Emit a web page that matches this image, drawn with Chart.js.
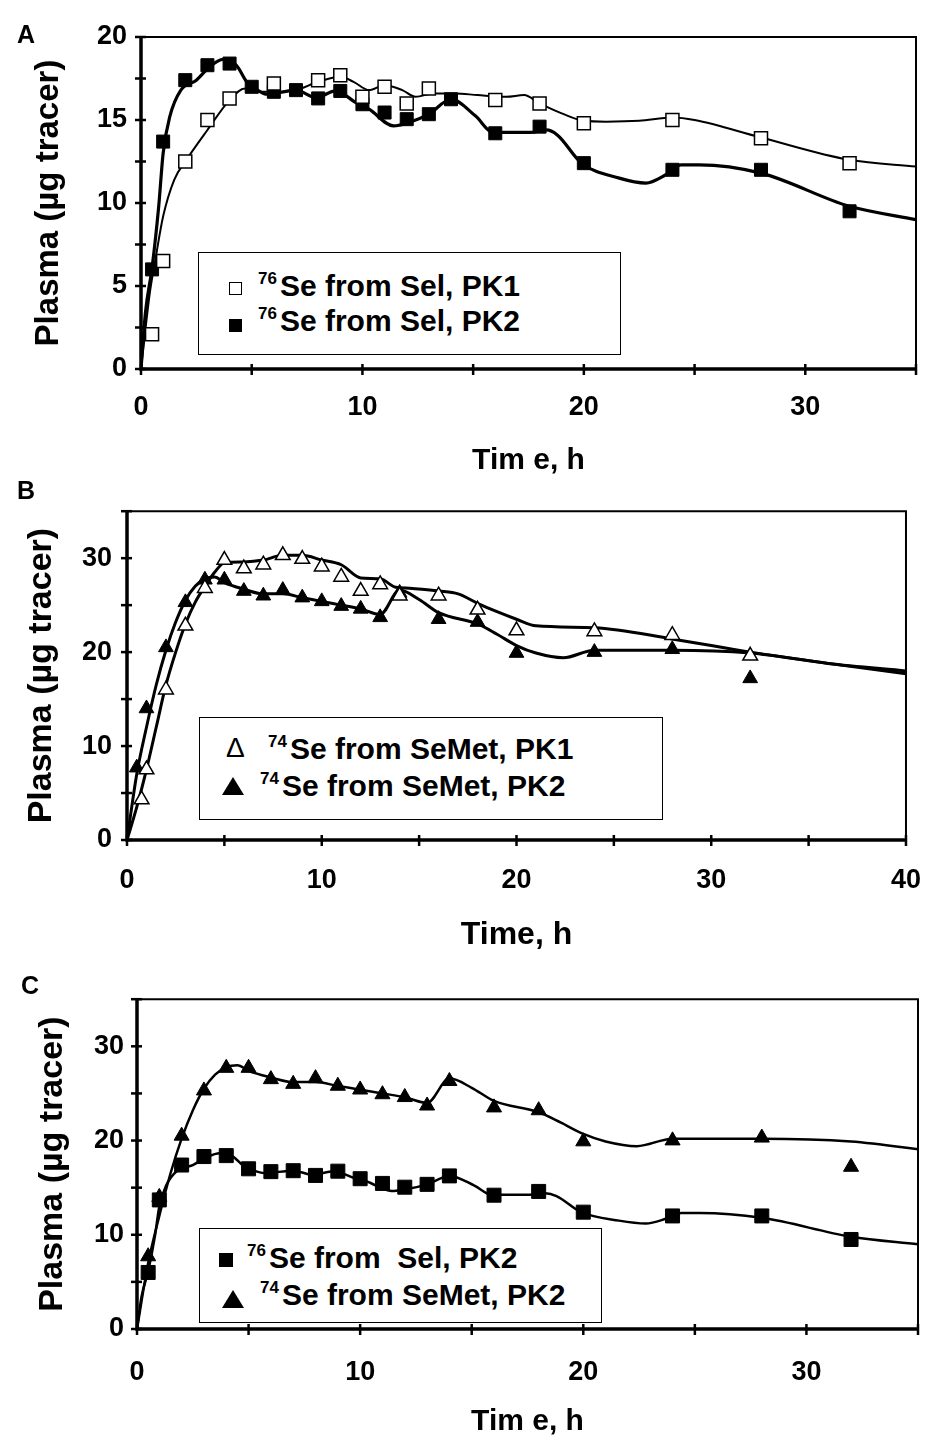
<!DOCTYPE html>
<html>
<head>
<meta charset="utf-8">
<script src="https://cdn.jsdelivr.net/npm/chart.js@4.4.1/dist/chart.umd.min.js"></script>
<style>
  body { margin: 0; background: #fff; width: 945px; height: 1452px; position: relative; overflow: hidden;
         font-family: "Liberation Sans", Arial, sans-serif; color: #000; }
  canvas { position: absolute; left: 0; }
  .letter { position: absolute; font-weight: bold; font-size: 25px; line-height: 25px; }
  .legend { position: absolute; border: 1.5px solid #000; box-sizing: border-box; background: #fff; }
  .row { position: absolute; font-weight: bold; font-size: 30px; line-height: 34px; white-space: pre; }
  .row .sup { font-size: 17px; vertical-align: 12px; line-height: 0; margin-right: 3px; }
  .mk { position: absolute; box-sizing: border-box; }
  .sq-open { border: 1.5px solid #000; background: #fff; }
  .sq-full { background: #000; }
  .tri-full { width: 0; height: 0; border-left: 11px solid transparent; border-right: 11px solid transparent; border-bottom: 18px solid #000; }
  .tri-open { font-weight: normal; font-size: 28px; line-height: 28px; }
</style>
</head>
<body>
<canvas id="chartA" width="945" height="480" style="top:0px;width:945px;height:480px"></canvas>
<canvas id="chartB" width="945" height="490" style="top:480px;width:945px;height:490px"></canvas>
<canvas id="chartC" width="945" height="482" style="top:970px;width:945px;height:482px"></canvas>
<div id="overlay"></div>
<script>
Chart.defaults.font.family = '"Liberation Sans", Arial, sans-serif';
Chart.defaults.color = "#000";

// --- measured points (h, µg tracer) ---
const selPk1Times = [0.5, 1, 2, 3, 4, 6, 8, 9, 10, 11, 12, 13, 16, 18, 20, 24, 28, 32];
const selPk1Values = [2.1, 6.5, 12.5, 15.0, 16.3, 17.2, 17.4, 17.7, 16.4, 17.0, 16.0, 16.9, 16.2, 16.0, 14.8, 15.0, 13.9, 12.4];
const selPk2Times = [0.5, 1, 2, 3, 4, 5, 6, 7, 8, 9, 10, 11, 12, 13, 14, 16, 18, 20, 24, 28, 32];
const selPk2Values = [6.0, 13.7, 17.4, 18.3, 18.4, 17.0, 16.7, 16.8, 16.3, 16.75, 15.95, 15.45, 15.05, 15.35, 16.25, 14.2, 14.6, 12.4, 12.0, 12.0, 9.5];
const semetPk1Times = [0.75, 1, 2, 3, 4, 5, 6, 7, 8, 9, 10, 11, 12, 13, 14, 16, 18, 20, 24, 28, 32];
const semetPk1Values = [4.3, 7.5, 16.0, 22.8, 26.8, 29.8, 28.9, 29.3, 30.3, 29.9, 29.1, 28.0, 26.5, 27.2, 26.0, 26.0, 24.5, 22.3, 22.2, 21.8, 19.6];
const semetPk2Times = [0.5, 1, 2, 3, 4, 5, 6, 7, 8, 9, 10, 11, 12, 13, 14, 16, 18, 20, 24, 28, 32];
const semetPk2Values = [7.7, 14.0, 20.5, 25.3, 27.7, 27.7, 26.5, 26.0, 26.6, 25.8, 25.4, 24.9, 24.6, 23.7, 26.3, 23.5, 23.2, 19.9, 20.0, 20.3, 17.2];

// --- model fit curves ---
const selPk1FitTimes = [0, 0.4, 0.65, 1, 1.5, 2, 3, 4, 4.7, 5.3, 6, 7, 8, 9, 9.6, 10.3, 11, 11.8, 12.4, 13.2, 14.2, 15.2, 16.5, 17.3, 18, 19, 20, 21, 22.5, 24, 25, 28, 32, 35];
const selPk1FitValues = [0, 4.6, 6.6, 9.2, 11.4, 12.5, 14.4, 16.2, 16.9, 16.7, 16.7, 16.8, 17.3, 17.6, 17.3, 16.8, 17.1, 16.8, 16.4, 16.6, 16.6, 16.5, 16.4, 16.5, 16.0, 15.4, 14.95, 14.9, 14.95, 15.15, 15.0, 13.95, 12.6, 12.2];
const selPk2FitTimes = [0, 0.2, 0.5, 0.8, 1, 1.3, 1.8, 2.5, 3.1, 3.7, 4.3, 4.8, 5.1, 5.7, 7, 7.9, 8.8, 9.7, 10.3, 11.4, 12.1, 13, 14, 15.1, 15.9, 17.6, 18.3, 18.8, 19.9, 21.6, 22.8, 23.7, 24.4, 25.2, 28, 32, 35];
const selPk2FitValues = [0, 3.4, 6.1, 9.8, 13, 15.2, 16.8, 17.4, 18.2, 18.65, 18.3, 17.25, 16.95, 16.55, 16.8, 16.35, 16.75, 16.05, 15.65, 14.65, 14.85, 15.35, 16.25, 15.25, 14.25, 14.25, 14.4, 14.1, 12.4, 11.5, 11.2, 11.7, 12.3, 12.3, 11.8, 9.8, 9.0];
const semetPk1FitTimes = [0, 0.5, 1, 1.5, 2, 2.5, 3, 3.5, 4, 4.5, 5, 6, 7, 8, 9, 10, 11, 12, 13, 13.8, 14.5, 16, 17, 18, 19, 20, 21, 24, 28, 32, 36, 40];
const semetPk1FitValues = [0, 3.5, 7.5, 12, 16.5, 20, 23, 25.3, 27, 28.5, 29.5, 29.6, 29.8, 30.3, 30.3, 29.8, 29.3, 27.9, 27.8, 26.9, 26.8, 26.5, 26.2, 25.2, 24.3, 23.5, 22.8, 22.6, 21.4, 20.0, 18.8, 17.7];
const semetPk2FitTimes = [0, 0.5, 1, 1.5, 2, 2.5, 3, 3.5, 4, 4.5, 5, 6, 7, 8, 9, 10, 11, 12, 13, 14, 15, 16, 18, 19, 20, 21, 22.4, 24, 28, 32, 36, 40];
const semetPk2FitValues = [0, 7, 12, 16.5, 20.2, 23.2, 25.5, 27, 27.8, 28, 27.4, 26.7, 26.2, 26.2, 25.8, 25.4, 25, 24.6, 24.0, 26.6, 25.6, 24.2, 23, 21.9, 20.7, 19.9, 19.4, 20.2, 20.2, 19.9, 18.8, 18.0];

// --- labelled tick values ---
const timeLabels35 = [0, 10, 20, 30];
const timeLabels40 = [0, 10, 20, 30, 40];
const plasmaLabelsA = [0, 5, 10, 15, 20];
const plasmaLabelsBC = [0, 10, 20, 30];

const yTitle = "Plasma (\u00b5g tracer)";
const legendLabels = {
  a: [["76", "Se from Sel, PK1"], ["76", "Se from Sel, PK2"]],
  b: [["74", "Se from SeMet, PK1"], ["74", "Se from SeMet, PK2"]],
  c: [["76", "Se from  Sel, PK2"], ["74", "Se from SeMet, PK2"]],
};

const toPoints = (ts, vs) => ts.map((t, i) => ({ x: t, y: vs[i] }));

function markerSet(ts, vs, style, filled, radius) {
  return {
    data: toPoints(ts, vs),
    showLine: false,
    pointStyle: style,
    pointRadius: radius,
    pointBackgroundColor: filled ? "#000" : "#fff",
    pointBorderColor: "#000",
    pointBorderWidth: filled ? 1 : 1.5,
    order: 0,
  };
}

function fitSet(ts, vs, width) {
  return {
    data: toPoints(ts, vs),
    borderColor: "#000",
    borderWidth: width,
    pointRadius: 0,
    cubicInterpolationMode: "monotone",
    fill: false,
    order: 1,
  };
}

// box frame and ticks that cross the axes
const framePlugin = {
  id: "frame",
  afterDraw(chart) {
    const { ctx, chartArea: a, scales } = chart;
    ctx.save();
    ctx.strokeStyle = "#000";
    ctx.lineWidth = 2;
    ctx.beginPath();
    ctx.moveTo(a.left, a.top);
    ctx.lineTo(a.right, a.top);
    ctx.lineTo(a.right, a.bottom);
    ctx.stroke();
    ctx.lineWidth = 3.5;
    ctx.beginPath();
    ctx.moveTo(a.left, a.top - 1);
    ctx.lineTo(a.left, a.bottom);
    ctx.lineTo(a.right + 1, a.bottom);
    ctx.stroke();
    ctx.lineWidth = 2.5;
    scales.x.ticks.forEach((t) => {
      const px = scales.x.getPixelForValue(t.value);
      ctx.beginPath();
      ctx.moveTo(px, a.bottom - 5);
      ctx.lineTo(px, a.bottom + 6);
      ctx.stroke();
    });
    scales.y.ticks.forEach((t) => {
      const py = scales.y.getPixelForValue(t.value);
      ctx.beginPath();
      ctx.moveTo(a.left - 6, py);
      ctx.lineTo(a.left + 5, py);
      ctx.stroke();
    });
    ctx.restore();
  },
};

const tickFont = { size: 27, weight: "bold" };

function makeChart(id, p, datasets) {
  return new Chart(document.getElementById(id), {
    type: "line",
    data: { datasets },
    plugins: [framePlugin],
    options: {
      responsive: false,
      animation: false,
      events: [],
      layout: { padding: { left: 0, right: p.padRight, top: p.padTop, bottom: 0 } },
      plugins: { legend: { display: false }, tooltip: { enabled: false } },
      scales: {
        x: {
          type: "linear",
          min: 0,
          max: p.xMax,
          border: { display: false },
          grid: { display: false, drawTicks: false },
          ticks: {
            stepSize: 5,
            autoSkip: false,
            maxRotation: 0,
            padding: p.xTickPad,
            font: tickFont,
            color: "#000",
            callback: (v) => (p.xLabels.includes(v) ? String(v) : ""),
          },
          title: { display: true, text: p.xTitle, font: { size: p.xTitleSize, weight: "bold" }, color: "#000",
                   padding: { top: 0, bottom: p.xTitlePad } },
          afterFit: (s) => { s.height = p.xHeight; },
        },
        y: {
          min: 0,
          max: p.yMax,
          border: { display: false },
          grid: { display: false, drawTicks: false },
          ticks: {
            stepSize: p.yStep,
            autoSkip: false,
            padding: p.yTickPad,
            font: tickFont,
            color: "#000",
            callback: (v) => (p.yLabels.includes(v) ? String(v) : ""),
          },
          title: { display: true, text: yTitle, font: { size: p.yTitleSize, weight: "bold" }, color: "#000",
                   padding: { top: p.yTitlePad, bottom: 0 } },
          afterFit: (s) => { s.width = p.yWidth; },
        },
      },
    },
  });
}

makeChart("chartA",
  { padRight: 29, padTop: 37, xMax: 35, xLabels: timeLabels35, xTickPad: 22, xTitle: "Tim e, h", xTitleSize: 30, xTitlePad: 1, xHeight: 111,
    yMax: 20, yStep: 2.5, yLabels: plasmaLabelsA, yTickPad: 14, yTitleSize: 33, yTitlePad: 29, yWidth: 141 },
  [
    markerSet(selPk1Times, selPk1Values, "rect", false, 9.2),
    markerSet(selPk2Times, selPk2Values, "rect", true, 9.2),
    fitSet(selPk1FitTimes, selPk1FitValues, 2),
    fitSet(selPk2FitTimes, selPk2FitValues, 3.2),
  ]);

makeChart("chartB",
  { padRight: 32, padTop: 17, xMax: 40, xLabels: timeLabels40, xTickPad: 24, xTitle: "Time, h", xTitleSize: 32, xTitlePad: 16, xHeight: 130,
    yMax: 35, yStep: 5, yLabels: plasmaLabelsBC, yTickPad: 15, yTitleSize: 34, yTitlePad: 21, yWidth: 127 },
  [
    markerSet(semetPk1Times, semetPk1Values, "triangle", false, 8.5),
    markerSet(semetPk2Times, semetPk2Values, "triangle", true, 8.5),
    fitSet(semetPk1FitTimes, semetPk1FitValues, 3),
    fitSet(semetPk2FitTimes, semetPk2FitValues, 3),
  ]);

makeChart("chartC",
  { padRight: 23, padTop: 25, xMax: 35, xLabels: timeLabels35, xTickPad: 27, xTitle: "Tim e, h", xTitleSize: 30, xTitlePad: 12, xHeight: 123,
    yMax: 35, yStep: 5, yLabels: plasmaLabelsBC, yTickPad: 13, yTitleSize: 34, yTitlePad: 32, yWidth: 137 },
  [
    markerSet(selPk2Times, selPk2Values, "rect", true, 9.9),
    markerSet(semetPk2Times, semetPk2Values, "triangle", true, 8.7),
    fitSet(selPk2FitTimes, selPk2FitValues, 2.5),
    fitSet(semetPk2FitTimes, semetPk2FitValues, 2.5),
  ]);

// --- panel letters and in-plot legends ---
const overlay = document.getElementById("overlay");
function addEl(cls, style, html) {
  const el = document.createElement("div");
  el.className = cls;
  Object.assign(el.style, style);
  if (html) el.innerHTML = html;
  overlay.appendChild(el);
  return el;
}
const px = (n) => n + "px";

[["A", 17, 22], ["B", 17, 478], ["C", 21, 973]].forEach(([t, l, tp]) =>
  addEl("letter", { left: px(l), top: px(tp) }, t));

const legendLayout = [
  { key: "a", box: [198, 252, 423, 103],
    rows: [{ mk: "sq-open", ml: 228.5, mt: 281.5, size: 13, tx: 258, cy: 286 },
           { mk: "sq-full", ml: 228.5, mt: 318.5, size: 13, tx: 258, cy: 321 }] },
  { key: "b", box: [199, 717, 464, 103],
    rows: [{ mk: "tri-open", ml: 226, mt: 734, tx: 268, cy: 749 },
           { mk: "tri-full", ml: 222, mt: 777, tx: 260, cy: 786 }] },
  { key: "c", box: [199, 1228, 403, 95],
    rows: [{ mk: "sq-full", ml: 219, mt: 1253, size: 14, tx: 247, cy: 1258 },
           { mk: "tri-full", ml: 222, mt: 1290, tx: 260, cy: 1295 }] },
];

legendLayout.forEach((lg) => {
  const [l, t, w, h] = lg.box;
  addEl("legend", { left: px(l), top: px(t), width: px(w), height: px(h) });
  lg.rows.forEach((r, i) => {
    const mstyle = { left: px(r.ml), top: px(r.mt) };
    if (r.size) { mstyle.width = px(r.size); mstyle.height = px(r.size); }
    addEl("mk " + r.mk, mstyle, r.mk === "tri-open" ? "\u0394" : "");
    const [sup, text] = legendLabels[lg.key][i];
    addEl("row", { left: px(r.tx), top: px(r.cy - 17) }, '<span class="sup">' + sup + "</span>" + text);
  });
});
</script>
</body>
</html>
